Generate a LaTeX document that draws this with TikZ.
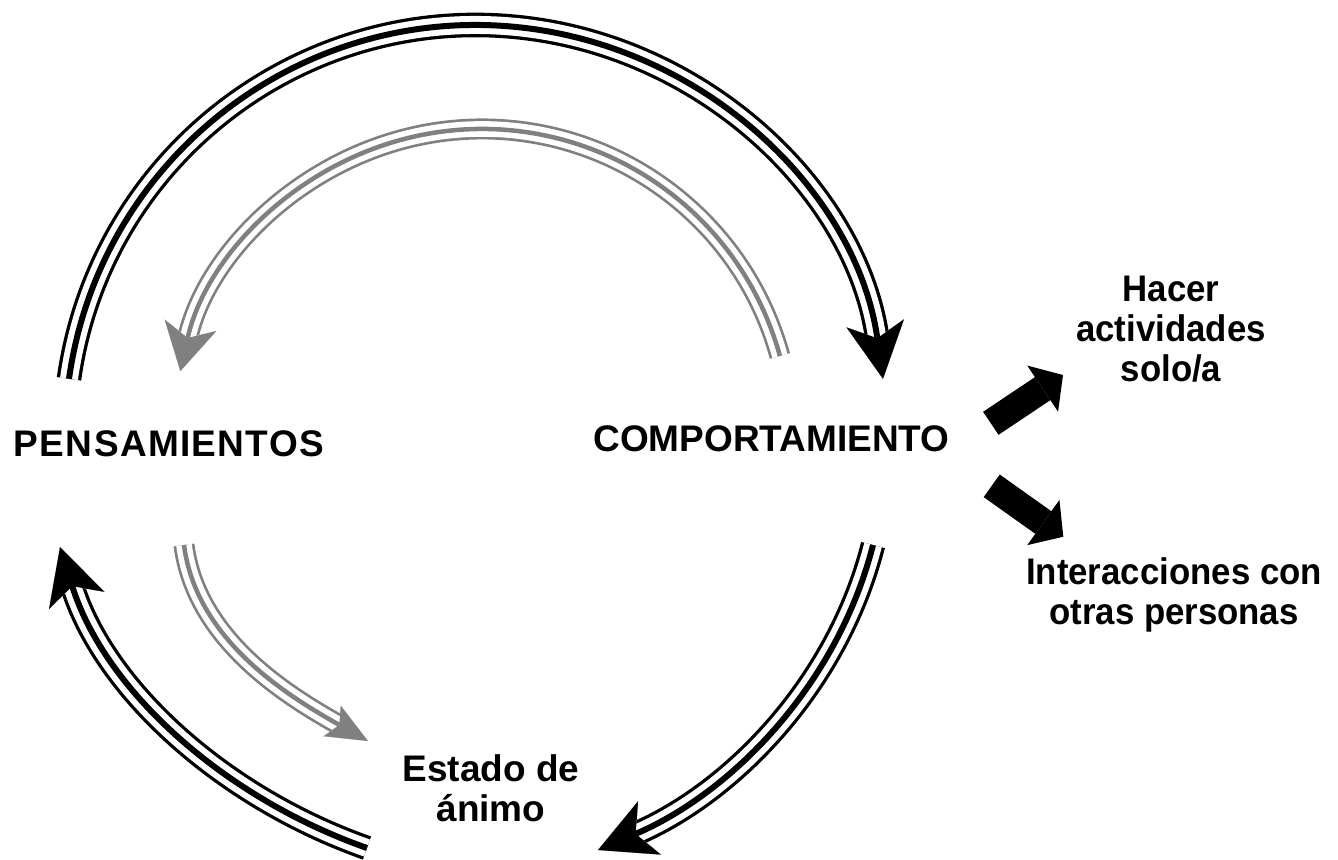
\documentclass[tikz,border=0pt]{standalone}
\usepackage{fontspec}
\setmainfont{Liberation Sans}
\usetikzlibrary{arrows.meta,calc}
\begin{document}
\begin{tikzpicture}[x=0.5pt,y=-0.5pt,
  lbl/.style={font=\bfseries\fontsize{18.5}{20}\selectfont, inner sep=0pt, align=center},
  narrowlbl/.style={lbl, font=\bfseries\fontsize{18.5}{20}\selectfont\addfontfeature{FakeStretch=0.94}},
  blacktri/.style={draw=black, line width=3pt,
     preaction={draw=black, line width=12.3pt},
     preaction={draw=white, line width=9pt}},
  graytri/.style={draw=black!50, line width=2.25pt,
     preaction={draw=black!50, line width=10.5pt},
     preaction={draw=white, line width=7.8pt}},
  bighead/.style={-{Stealth[length=28pt,width=29pt,inset=7.5pt,line width=0pt]}},
  grayheadA/.style={-{Stealth[length=23.5pt,width=26.5pt,inset=6.5pt,line width=0pt]}},
  grayheadB/.style={-{Stealth[length=20.5pt,width=17.5pt,inset=4pt,line width=0pt]}},
  blockarrow/.style={draw=black, line width=13.85pt, -{Triangle[length=12.25pt,width=27.75pt,line width=0pt]}}
]
\useasboundingbox (0,0) rectangle (1338,859);
\clip (0,0) rectangle (1338,859);

% text nodes (anchor=base is the baseline of the last line)
\node[lbl, anchor=base] (pens) at (169,456.7) {\addfontfeature{LetterSpace=3.6}PENSAMIENTOS};
\node[lbl, anchor=base] (comp) at (771.5,451.7) {COMPORTAMIENTO};
\node[narrowlbl, anchor=base] (hacer) at (1171,381) {Hacer\\actividades\\solo/a};
\node[narrowlbl, anchor=base] (inter) at (1174,624) {Interacciones con\\otras personas};
\node[lbl, anchor=base] (animo) at (491,821.7) {Estado de\\ánimo};

% centres of the circular arcs
\coordinate (c1) at (476,436);
\coordinate (c2) at (482,438);

% big black arc: PENSAMIENTOS -> COMPORTAMIENTO
\coordinate (pA) at ([shift={(188:411)}]c1);
\draw[blacktri, bighead] (pA) arc[start angle=188, end angle=352, radius=411];

% grey arc: COMPORTAMIENTO -> PENSAMIENTOS
\coordinate (cA) at ([shift={(-15.4:309)}]c2);
\draw[graytri, grayheadA] (cA) arc[start angle=-15.4, end angle=-167.5, radius=309];

% black arc: COMPORTAMIENTO -> Estado de animo
\coordinate (cB) at (873,545);
\coordinate (aB) at (598,850);
\draw[blacktri, bighead] (cB) .. controls (837,686) and (731,793) .. (aB);

% black arc: Estado de animo -> PENSAMIENTOS
\coordinate (aC) at (367,848);
\coordinate (pC) at (60,547);
\draw[blacktri, bighead] (aC) .. controls (225,798) and (105,691) .. (pC);

% grey arc: PENSAMIENTOS -> Estado de animo
\coordinate (pD) at (184,545);
\coordinate (aD) at (368,741);
\draw[graytri, grayheadB] (pD) .. controls (196,639) and (286,695) .. (aD);

% block arrows
\coordinate (u0) at (990.8,423.3);
\coordinate (u1) at (1063,375);
\coordinate (l0) at (991.7,485.8);
\coordinate (l1) at (1063.3,536.7);
\draw[blockarrow] (u0) -- (u1);
\draw[blockarrow] (l0) -- (l1);
\end{tikzpicture}
\end{document}
